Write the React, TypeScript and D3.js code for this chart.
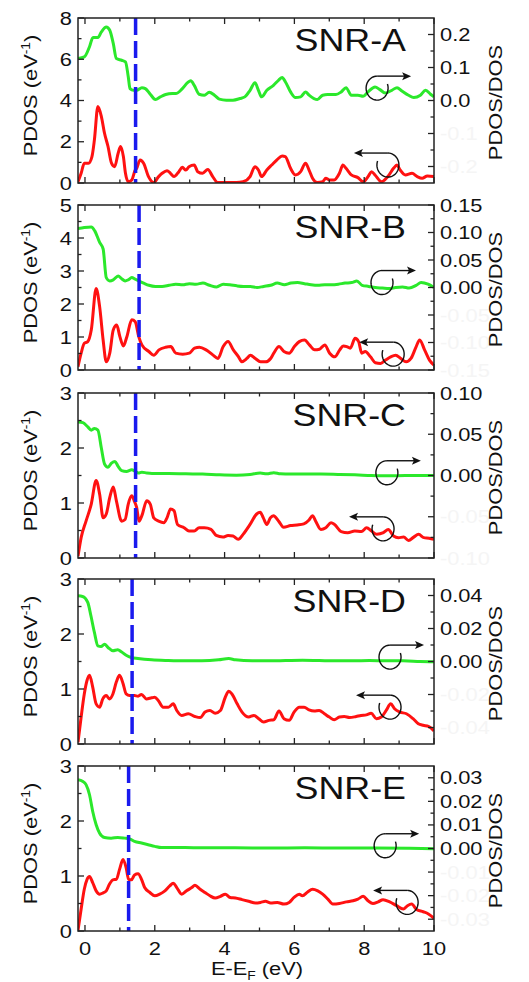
import React from "react";
import * as d3 from "d3";

// ---------- data ----------
const panelNames = ["SNR-A", "SNR-B", "SNR-C", "SNR-D", "SNR-E"];
const xTicks = [0, 2, 4, 6, 8, 10];
const leftMax = [8, 5, 3, 3, 3];
const leftTicksA = [0, 2, 4, 6, 8];
const leftTicksB = [0, 1, 2, 3, 4, 5];
const leftTicksC = [0, 1, 2, 3];
const leftTicksD = [0, 1, 2, 3];
const leftTicksE = [0, 1, 2, 3];
const rightMax = [0.25, 0.15, 0.1, 0.05, 0.035];
const rightTicksA = [0.2, 0.1, 0.0, -0.1, -0.2];
const rightTicksB = [0.15, 0.1, 0.05, 0.0, -0.05, -0.1, -0.15];
const rightTicksC = [0.1, 0.05, 0.0, -0.05, -0.1];
const rightTicksD = [0.04, 0.02, 0.0, -0.02, -0.04];
const rightTicksE = [0.03, 0.02, 0.01, 0.0, -0.01, -0.02, -0.03];
const rightDecimals = [1, 2, 2, 2, 2];
const fermiEnergy = [1.45, 1.55, 1.45, 1.35, 1.25];

type Pt = [number, number];

// PDOS/DOS (green, right axis)
const ratioA: Pt[] = [[-0.2,0.127],[-0.02,0.132],[0.13,0.163],[0.23,0.191],[0.37,0.191],[0.47,0.208],[0.61,0.223],[0.71,0.213],[0.81,0.173],[0.9,0.127],[1.05,0.122],[1.16,0.117],[1.24,0.072],[1.29,0.036],[1.39,0.031],[1.48,0.031],[1.63,0.039],[1.73,0.036],[1.87,0.019],[2.02,0.003],[2.16,0.011],[2.31,0.018],[2.5,0.021],[2.6,0.021],[2.79,0.036],[2.94,0.054],[3.03,0.06],[3.13,0.046],[3.27,0.019],[3.42,0.016],[3.56,0.025],[3.71,0.016],[3.85,0.004],[4.05,0.001],[4.24,0.001],[4.44,0.006],[4.58,0.011],[4.73,0.031],[4.87,0.054],[4.97,0.031],[5.06,0.011],[5.21,0.031],[5.4,0.046],[5.55,0.062],[5.65,0.07],[5.74,0.057],[5.89,0.026],[6.03,0.009],[6.18,0.011],[6.32,0.026],[6.42,0.016],[6.56,0.006],[6.66,0.003],[6.81,0.016],[6.95,0.018],[7.19,0.018],[7.34,0.026],[7.48,0.039],[7.63,0.016],[7.82,0.016],[7.97,0.013],[8.11,0.026],[8.31,0.041],[8.45,0.033],[8.6,0.023],[8.79,0.031],[8.94,0.039],[9.08,0.029],[9.27,0.016],[9.42,0.009],[9.61,0.016],[9.76,0.031],[9.9,0.019],[10,0.011]];
const ratioB: Pt[] = [[-0.2,0.107],[-0.02,0.109],[0.18,0.11],[0.28,0.103],[0.42,0.082],[0.52,0.07],[0.61,0.018],[0.71,0.012],[0.81,0.014],[0.95,0.021],[1.05,0.016],[1.15,0.012],[1.24,0.014],[1.34,0.018],[1.44,0.015],[1.54,0.012],[1.68,0.008],[1.83,0.004],[2.02,0.002],[2.21,0.002],[2.41,0.004],[2.6,0.006],[2.8,0.005],[2.99,0.007],[3.18,0.006],[3.38,0.008],[3.57,0.004],[3.77,0.001],[3.96,0.006],[4.15,0.005],[4.35,0.003],[4.54,0.002],[4.74,0.002],[4.93,0.0],[5.12,0.002],[5.32,0.004],[5.51,0.008],[5.71,0.005],[5.9,0.008],[6.09,0.009],[6.29,0.007],[6.48,0.005],[6.67,0.004],[6.87,0.005],[7.06,0.005],[7.26,0.006],[7.45,0.008],[7.64,0.009],[7.79,0.012],[7.94,0.004],[8.13,0.002],[8.32,0.0],[8.52,-0.001],[8.71,-0.002],[8.9,0.0],[9.1,0.001],[9.29,-0.001],[9.49,0.004],[9.63,0.009],[9.83,0.006],[10,0.0]];
const ratioC: Pt[] = [[-0.2,0.065],[-0.06,0.064],[0.08,0.059],[0.18,0.055],[0.27,0.057],[0.37,0.055],[0.47,0.033],[0.56,0.014],[0.66,0.01],[0.76,0.015],[0.86,0.017],[0.95,0.011],[1.05,0.006],[1.19,0.005],[1.34,0.007],[1.44,0.005],[1.53,0.003],[1.63,0.004],[1.77,0.003],[1.92,0.0025],[2.4,0.0025],[2.89,0.002],[3.37,0.0017],[3.86,0.0008],[4.34,0.0004],[4.73,0.0013],[5.02,0.003],[5.21,0.002],[5.41,0.0034],[5.6,0.002],[5.89,0.0017],[6.28,0.0017],[6.76,0.0017],[7.25,0.0013],[7.73,0.0008],[8.21,0.0],[8.69,-0.0004],[9.18,0.0],[9.66,0.0],[10,0.0]];
const ratioD: Pt[] = [[-0.2,0.0398],[-0.07,0.0394],[0.08,0.0358],[0.17,0.0277],[0.27,0.0176],[0.37,0.0095],[0.46,0.0091],[0.56,0.0105],[0.66,0.0085],[0.8,0.0065],[0.94,0.0071],[1.04,0.0059],[1.18,0.0038],[1.33,0.0024],[1.52,0.0018],[1.91,0.001],[2.39,0.0006],[2.87,0.0004],[3.35,0.0004],[3.83,0.001],[4.12,0.0018],[4.31,0.001],[4.79,0.0004],[5.27,0.0004],[5.75,0.0006],[6.23,0.0008],[6.71,0.0006],[7.19,0.0004],[7.67,0.0004],[8.15,0.0006],[8.63,0.0004],[9.11,0.0004],[9.6,0.0],[10,-0.0002]];
const ratioE: Pt[] = [[-0.2,0.0292],[-0.07,0.0285],[0.03,0.0271],[0.13,0.0228],[0.22,0.0158],[0.32,0.0101],[0.42,0.0065],[0.56,0.0047],[0.75,0.0044],[0.94,0.0047],[1.14,0.0044],[1.28,0.0041],[1.42,0.003],[1.62,0.0023],[1.81,0.0016],[2.0,0.0009],[2.19,0.0004],[2.39,0.0004],[2.87,0.0004],[3.35,0.0003],[4.3,0.0003],[5.3,0.0002],[6.3,0.0003],[7.3,0.0002],[8.3,0.0002],[9.3,0.0001],[10,-0.0001]];

// PDOS (red, left axis)
const pdosA: Pt[] = [[-0.2,0.06],[-0.11,0.47],[-0.02,0.96],[0.1,0.96],[0.2,1.28],[0.27,2.09],[0.37,3.71],[0.47,3.22],[0.56,2.41],[0.66,1.77],[0.76,0.96],[0.85,0.79],[0.95,1.44],[1.02,1.77],[1.1,1.28],[1.16,0.47],[1.24,0.06],[1.34,0.15],[1.44,0.63],[1.48,0.71],[1.58,1.12],[1.68,0.96],[1.82,0.31],[1.97,0.02],[2.11,0.31],[2.21,0.47],[2.35,0.6],[2.45,0.47],[2.55,0.31],[2.69,0.55],[2.79,0.76],[2.89,0.63],[2.98,0.79],[3.13,0.87],[3.23,0.55],[3.37,0.47],[3.52,0.66],[3.66,0.31],[3.81,0.02],[4.05,0.02],[4.34,0.02],[4.53,0.06],[4.73,0.31],[4.87,0.79],[4.97,0.63],[5.06,0.31],[5.21,0.63],[5.35,0.87],[5.5,1.12],[5.65,1.31],[5.74,1.28],[5.89,0.71],[6.03,0.39],[6.18,0.55],[6.32,0.96],[6.42,0.63],[6.52,0.23],[6.66,0.02],[6.81,0.06],[6.9,0.23],[7.0,0.15],[7.14,0.15],[7.29,0.47],[7.39,0.87],[7.48,0.71],[7.63,0.39],[7.82,0.26],[7.97,0.06],[8.11,0.31],[8.21,0.55],[8.31,0.39],[8.5,0.06],[8.69,0.34],[8.84,0.71],[8.94,0.87],[9.03,0.63],[9.18,0.39],[9.37,0.47],[9.52,0.31],[9.66,0.23],[9.81,0.34],[10,0.31]];
const pdosB: Pt[] = [[-0.2,0.1],[-0.11,0.51],[-0.02,0.81],[0.08,0.86],[0.18,1.21],[0.32,2.47],[0.42,1.92],[0.52,0.91],[0.61,0.25],[0.71,0.51],[0.81,1.21],[0.91,1.36],[1.0,1.01],[1.1,0.73],[1.2,1.01],[1.34,1.52],[1.44,1.46],[1.54,1.01],[1.63,0.76],[1.83,0.56],[1.97,0.45],[2.12,0.61],[2.31,0.69],[2.46,0.71],[2.6,0.51],[2.8,0.48],[2.99,0.51],[3.14,0.66],[3.28,0.69],[3.47,0.61],[3.67,0.45],[3.81,0.35],[3.96,0.71],[4.1,0.86],[4.25,0.61],[4.4,0.4],[4.49,0.25],[4.64,0.35],[4.74,0.45],[4.88,0.35],[5.03,0.25],[5.17,0.25],[5.32,0.35],[5.41,0.51],[5.56,0.71],[5.7,0.56],[5.85,0.51],[6.0,0.71],[6.14,0.86],[6.29,0.91],[6.43,0.76],[6.58,0.61],[6.72,0.63],[6.87,0.76],[7.01,0.51],[7.16,0.4],[7.3,0.61],[7.4,0.73],[7.5,0.71],[7.6,0.66],[7.74,0.96],[7.84,0.86],[7.93,0.51],[8.03,0.56],[8.18,0.4],[8.32,0.22],[8.47,0.2],[8.61,0.3],[8.76,0.4],[8.9,0.45],[9.05,0.35],[9.2,0.25],[9.34,0.35],[9.49,0.71],[9.59,0.91],[9.73,0.61],[9.87,0.3],[10,0.15]];
const pdosC: Pt[] = [[-0.2,0.03],[-0.11,0.37],[0.03,0.67],[0.18,0.98],[0.32,1.41],[0.42,1.16],[0.52,0.73],[0.61,0.8],[0.71,1.1],[0.81,1.29],[0.9,1.04],[1.05,0.67],[1.15,0.7],[1.24,0.98],[1.34,1.13],[1.41,1.04],[1.48,0.92],[1.55,0.67],[1.63,0.77],[1.77,1.04],[1.87,0.98],[1.97,0.73],[2.11,0.67],[2.26,0.64],[2.35,0.73],[2.45,0.89],[2.55,0.86],[2.65,0.61],[2.84,0.55],[2.98,0.49],[3.13,0.49],[3.27,0.55],[3.42,0.55],[3.61,0.52],[3.76,0.41],[3.95,0.38],[4.1,0.41],[4.24,0.4],[4.39,0.34],[4.53,0.43],[4.73,0.61],[4.92,0.8],[5.02,0.83],[5.11,0.73],[5.21,0.61],[5.31,0.73],[5.4,0.77],[5.55,0.67],[5.69,0.56],[5.89,0.59],[6.08,0.6],[6.27,0.62],[6.42,0.69],[6.52,0.77],[6.61,0.67],[6.76,0.52],[6.9,0.55],[7.05,0.64],[7.15,0.61],[7.34,0.48],[7.53,0.46],[7.73,0.49],[7.92,0.48],[8.07,0.55],[8.21,0.49],[8.36,0.43],[8.55,0.46],[8.69,0.52],[8.84,0.4],[8.98,0.37],[9.13,0.38],[9.27,0.32],[9.42,0.38],[9.56,0.43],[9.71,0.37],[9.86,0.36],[10,0.34]];
const pdosD: Pt[] = [[-0.2,0.03],[-0.11,0.49],[-0.02,0.91],[0.06,1.16],[0.13,1.25],[0.22,1.04],[0.32,0.73],[0.42,0.67],[0.51,0.82],[0.61,0.88],[0.7,0.82],[0.8,0.91],[0.9,1.13],[0.99,1.25],[1.09,1.1],[1.18,0.91],[1.28,0.88],[1.42,0.88],[1.52,0.87],[1.62,0.9],[1.76,0.82],[1.91,0.84],[2.0,0.85],[2.1,0.79],[2.24,0.67],[2.39,0.67],[2.53,0.73],[2.63,0.61],[2.77,0.52],[2.96,0.55],[3.15,0.5],[3.3,0.48],[3.44,0.58],[3.58,0.61],[3.73,0.56],[3.88,0.61],[4.02,0.85],[4.12,0.96],[4.21,0.91],[4.36,0.73],[4.5,0.58],[4.69,0.49],[4.84,0.52],[4.98,0.46],[5.12,0.4],[5.27,0.43],[5.41,0.44],[5.56,0.6],[5.7,0.46],[5.85,0.43],[5.99,0.58],[6.14,0.67],[6.28,0.67],[6.42,0.62],[6.57,0.6],[6.71,0.61],[6.86,0.55],[7.0,0.49],[7.14,0.44],[7.29,0.49],[7.43,0.5],[7.58,0.48],[7.77,0.5],[7.91,0.52],[8.06,0.53],[8.2,0.56],[8.35,0.46],[8.49,0.49],[8.63,0.61],[8.76,0.73],[8.87,0.64],[9.02,0.58],[9.21,0.55],[9.4,0.46],[9.55,0.37],[9.69,0.34],[9.84,0.32],[10,0.24]];
const pdosE: Pt[] = [[-0.2,0.01],[-0.11,0.4],[-0.02,0.76],[0.06,0.94],[0.13,0.99],[0.22,0.88],[0.32,0.73],[0.42,0.67],[0.51,0.69],[0.61,0.73],[0.7,0.85],[0.8,0.93],[0.9,0.94],[0.99,1.12],[1.09,1.3],[1.18,1.15],[1.25,0.94],[1.33,0.93],[1.42,1.02],[1.52,1.04],[1.62,0.94],[1.71,0.79],[1.86,0.7],[2.0,0.64],[2.14,0.67],[2.29,0.73],[2.43,0.82],[2.53,0.87],[2.63,0.79],[2.77,0.67],[2.91,0.73],[3.06,0.79],[3.15,0.83],[3.3,0.76],[3.44,0.7],[3.58,0.64],[3.73,0.6],[3.88,0.63],[4.02,0.67],[4.16,0.61],[4.31,0.6],[4.5,0.57],[4.69,0.54],[4.89,0.51],[5.03,0.52],[5.17,0.54],[5.32,0.51],[5.51,0.52],[5.7,0.49],[5.85,0.52],[5.99,0.61],[6.14,0.67],[6.23,0.64],[6.38,0.71],[6.52,0.76],[6.67,0.73],[6.81,0.67],[6.96,0.58],[7.1,0.49],[7.29,0.5],[7.49,0.53],[7.68,0.55],[7.82,0.58],[7.97,0.63],[8.11,0.55],[8.25,0.5],[8.4,0.53],[8.54,0.57],[8.73,0.53],[8.93,0.46],[9.12,0.4],[9.24,0.46],[9.36,0.49],[9.5,0.39],[9.69,0.35],[9.84,0.31],[10,0.23]];

const leftTicks = [leftTicksA, leftTicksB, leftTicksC, leftTicksD, leftTicksE];
const rightTicks = [rightTicksA, rightTicksB, rightTicksC, rightTicksD, rightTicksE];
const ratios = [ratioA, ratioB, ratioC, ratioD, ratioE];
const pdoses = [pdosA, pdosB, pdosC, pdosD, pdosE];

// ---------- layout ----------
const W = 529;
const H = 982;
const frameLeft = 78;
const frameRight = 434;
const panelTops = [18, 205, 393, 579, 766];
const panelH = 165;
const xDomain: [number, number] = [-0.2, 10];
// annotation anchors (eV, left-axis units)
const greenMark: Pt[] = [[8.37, 4.6], [8.51, 2.65], [8.65, 1.55], [8.74, 1.58], [8.6, 1.55]];
const redMark: Pt[] = [[8.68, 0.87], [8.83, 0.48], [8.54, 0.53], [8.74, 0.67], [9.23, 0.52]];

const FONT = "'Liberation Sans', Arial, Helvetica, sans-serif";
const GREEN = "#2be82b";
const RED = "#ff1111";
const BLUE = "#1a1aee";
const SX = 1.15;

function fmt(v: number, d: number) {
  const s = Math.abs(v).toFixed(d);
  return v < -1e-12 ? "-" + s : s;
}

function Arrow({ cx, cy, dir }: { cx: number; cy: number; dir: 1 | -1 }) {
  const rx = 11, ry = 12;
  const pts: string[] = [];
  const a0 = -90, a1 = -90 - dir * 290;
  const n = 40;
  for (let k = 0; k <= n; k++) {
    const a = ((a0 + (a1 - a0) * (k / n)) * Math.PI) / 180;
    pts.push(`${k === 0 ? "M" : "L"}${(cx + rx * Math.cos(a)).toFixed(2)},${(cy + ry * Math.sin(a)).toFixed(2)}`);
  }
  const ay = cy - ry;
  const ax0 = cx;
  const ax1 = cx + dir * 34;
  const head = `M${ax1},${ay} L${ax1 - dir * 9},${ay - 4} L${ax1 - dir * 7},${ay} L${ax1 - dir * 9},${ay + 4} Z`;
  return (
    <g>
      <path d={pts.join(" ")} fill="none" stroke="#111" strokeWidth={1.4} />
      <line x1={ax0} y1={ay} x2={ax1 - dir * 6} y2={ay} stroke="#111" strokeWidth={1.4} />
      <path d={head} fill="#111" />
    </g>
  );
}

function Panel({ i }: { i: number }) {
  const top = panelTops[i];
  const bottom = top + panelH;
  const x = d3.scaleLinear().domain(xDomain).range([frameLeft, frameRight]);
  const yL = d3.scaleLinear().domain([0, leftMax[i]]).range([bottom, top]);
  const yR = d3.scaleLinear().domain([-rightMax[i], rightMax[i]]).range([bottom, top]);
  const lineR = d3.line<Pt>().x((d) => x(d[0])).y((d) => yR(d[1])).curve(d3.curveMonotoneX);
  const lineL = d3.line<Pt>().x((d) => x(d[0])).y((d) => yL(d[1])).curve(d3.curveMonotoneX);

  const lt = leftTicks[i];
  const lStep = lt[1] - lt[0];
  const lMinor = d3.range(lStep / 2, leftMax[i], lStep).filter((v) => !lt.some((t) => Math.abs(t - v) < 1e-9));
  const rt = rightTicks[i];
  const rStep = Math.abs(rt[0] - rt[1]);
  const rMinor = d3.range(-rightMax[i], rightMax[i] + 1e-9, rStep / 2).filter(
    (v) => !rt.some((t) => Math.abs(t - v) < 1e-9) && v > -rightMax[i] + 1e-9 && v < rightMax[i] - 1e-9
  );
  const xMinor = [1, 3, 5, 7, 9];
  const maj = 6, min = 3.5;
  const clipId = `clip${i}`;
  const gm = greenMark[i];
  const rm = redMark[i];

  return (
    <g>
      <defs>
        <clipPath id={clipId}>
          <rect x={frameLeft} y={top} width={frameRight - frameLeft} height={panelH} />
        </clipPath>
      </defs>
      <g clipPath={`url(#${clipId})`}>
        <path d={lineR(ratios[i]) || ""} fill="none" stroke={GREEN} strokeWidth={3} strokeLinejoin="round" />
        <path d={lineL(pdoses[i]) || ""} fill="none" stroke={RED} strokeWidth={3} strokeLinejoin="round" />
        <line x1={x(fermiEnergy[i])} x2={x(fermiEnergy[i])} y1={top} y2={bottom} stroke={BLUE} strokeWidth={3.5} strokeDasharray="17,6" />
      </g>
      <rect x={frameLeft} y={top} width={frameRight - frameLeft} height={panelH} fill="none" stroke="#222" strokeWidth={1.5} />
      {xTicks.map((t) => (
        <g key={"xt" + t}>
          <line x1={x(t)} x2={x(t)} y1={bottom} y2={bottom - maj} stroke="#222" strokeWidth={1.3} />
          <line x1={x(t)} x2={x(t)} y1={top} y2={top + maj} stroke="#222" strokeWidth={1.3} />
        </g>
      ))}
      {xMinor.map((t) => (
        <g key={"xm" + t}>
          <line x1={x(t)} x2={x(t)} y1={bottom} y2={bottom - min} stroke="#222" strokeWidth={1.3} />
          <line x1={x(t)} x2={x(t)} y1={top} y2={top + min} stroke="#222" strokeWidth={1.3} />
        </g>
      ))}
      {lt.map((t) => (
        <g key={"lt" + t}>
          <line x1={frameLeft} x2={frameLeft + maj} y1={yL(t)} y2={yL(t)} stroke="#222" strokeWidth={1.3} />
          <text transform={`translate(${frameLeft - 6},${yL(t) + 6.5}) scale(${SX},1)`} textAnchor="end" fontSize={19} fontFamily={FONT} fill="#111">
            {t}
          </text>
        </g>
      ))}
      {lMinor.map((t) => (
        <line key={"lm" + t} x1={frameLeft} x2={frameLeft + min} y1={yL(t)} y2={yL(t)} stroke="#222" strokeWidth={1.3} />
      ))}
      {rt.map((t) => (
        <g key={"rt" + t}>
          <line x1={frameRight} x2={frameRight - maj} y1={yR(t)} y2={yR(t)} stroke="#222" strokeWidth={1.3} />
          <text transform={`translate(${frameRight + 6},${yR(t) + 6.5}) scale(${SX},1)`} textAnchor="start" fontSize={19} fontFamily={FONT} fill={t < -1e-12 ? "#f5f5f5" : "#111"}>
            {fmt(t, rightDecimals[i])}
          </text>
        </g>
      ))}
      {rMinor.map((t) => (
        <line key={"rm" + t} x1={frameRight} x2={frameRight - min} y1={yR(t)} y2={yR(t)} stroke="#222" strokeWidth={1.3} />
      ))}
      <text transform={`translate(406,${top + 33}) scale(1.12,1)`} textAnchor="end" fontSize={32} fontFamily={FONT} fill="#111">
        {panelNames[i]}
      </text>
      <text transform={`translate(37,${top + panelH / 2 - 5}) rotate(-90) scale(${SX},1)`} textAnchor="middle" fontSize={19} fontFamily={FONT} fill="#111">
        PDOS (eV
        <tspan dy={-7} fontSize={12}>-1</tspan>
        <tspan dy={7}>)</tspan>
      </text>
      <text transform={`translate(502,${top + panelH / 2 + 2}) rotate(-90) scale(${SX},1)`} textAnchor="middle" fontSize={19} fontFamily={FONT} fill="#111">
        PDOS/DOS
      </text>
      <Arrow cx={x(gm[0])} cy={yL(gm[1])} dir={1} />
      <Arrow cx={x(rm[0])} cy={yL(rm[1])} dir={-1} />
    </g>
  );
}

export default function App() {
  const x = d3.scaleLinear().domain(xDomain).range([frameLeft, frameRight]);
  const lastBottom = panelTops[4] + panelH;
  return (
    <svg width={W} height={H} style={{ position: "absolute", left: 0, top: 0, background: "#fff" }}>
      <rect width={W} height={H} fill="#fff" />
      {panelNames.map((_, i) => (
        <Panel key={i} i={i} />
      ))}
      {xTicks.map((t) => (
        <text key={"xl" + t} transform={`translate(${x(t)},${lastBottom + 24}) scale(${SX},1)`} textAnchor="middle" fontSize={19} fontFamily={FONT} fill="#111">
          {t}
        </text>
      ))}
      <text transform={`translate(257,${lastBottom + 44}) scale(${SX},1)`} textAnchor="middle" fontSize={19} fontFamily={FONT} fill="#111">
        E-E
        <tspan dy={5} fontSize={12}>F</tspan>
        <tspan dy={-5}> (eV)</tspan>
      </text>
    </svg>
  );
}
